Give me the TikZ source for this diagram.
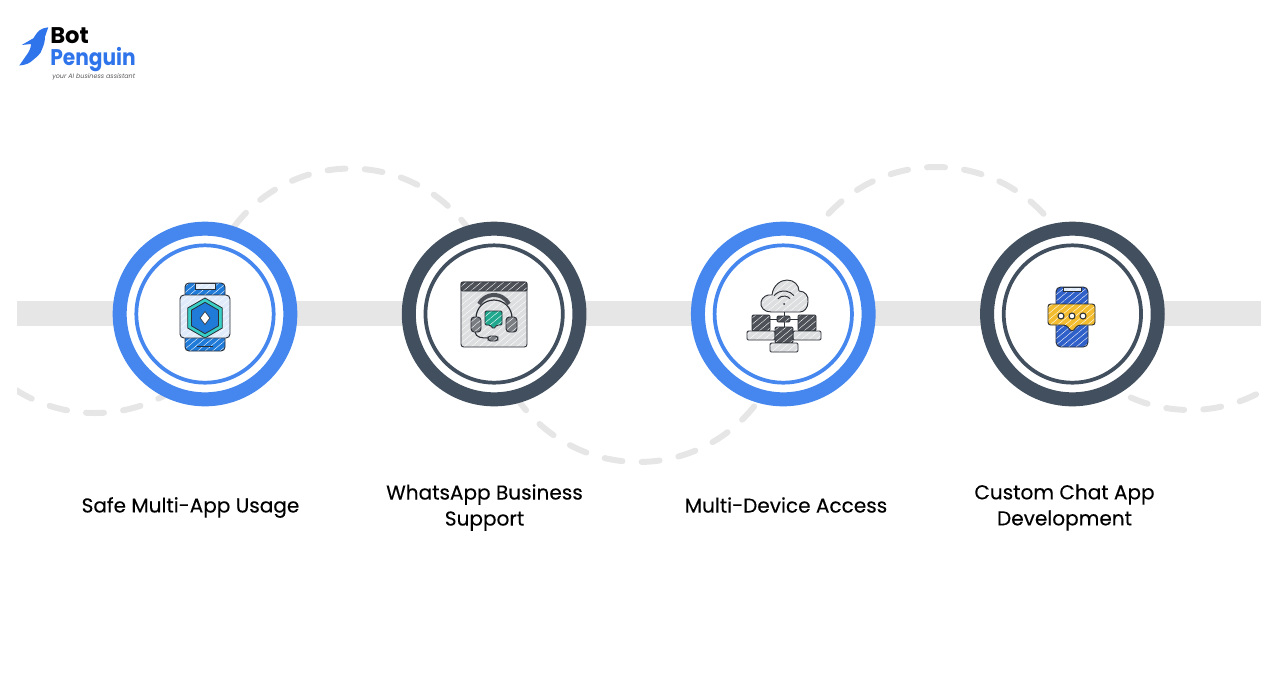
\documentclass[tikz,border=0pt]{standalone}
\usepackage{fontspec}
\setmainfont{Poppins}
\newfontfamily\labelfont[FakeBold=0.25]{Poppins}
\newfontfamily\logofont[FakeStretch=0.89]{Poppins}
\usepackage{xcolor}
\usetikzlibrary{positioning, shapes.geometric, patterns.meta}

\definecolor{ringblue}{HTML}{4587EE}
\definecolor{ringdark}{HTML}{414F5E}
\definecolor{trackgray}{HTML}{E6E6E6}
\definecolor{iconline}{HTML}{2B2F36}
\definecolor{iconblue}{HTML}{1F7AD8}
\definecolor{iconteal}{HTML}{38CFC6}
\definecolor{iconpale}{HTML}{DFEBFA}
\definecolor{iconsilver}{HTML}{DDDEE0}
\definecolor{icongray}{HTML}{4E5258}
\definecolor{icongreen}{HTML}{1FA88E}
\definecolor{iconcobalt}{HTML}{2F5FC8}
\definecolor{iconyellow}{HTML}{F2BC2E}
\definecolor{logoblue}{HTML}{2F74EA}

\tikzset{
    outerring/.style={draw=#1, circle, fill=white, line width=10.5pt, minimum size=128pt, inner sep=0pt},
    innerring/.style={draw=#1, circle, line width=2.8pt, minimum size=103pt, inner sep=0pt},
    dashline/.style={draw=trackgray, line width=4.5pt, line cap=round, dash pattern=on 13.5pt off 14.4pt},
    sketch/.style={draw=iconline, line width=.7pt, preaction={fill=#1},
        preaction={pattern={Lines[angle=40,distance=3.6pt,line width=.3pt]}, pattern color=white}},
    hexshape/.style={regular polygon, regular polygon sides=6, shape border rotate=30, draw=iconline, line width=.6pt, inner sep=0pt},
    steplabel/.style={font=\labelfont\fontsize{15.05pt}{19.5pt}\selectfont, text=black, align=center},
    logotext/.style={anchor=base west, inner sep=0pt, font=\bfseries\fontsize{17pt}{17pt}\selectfont}
}

\begin{document}
\begin{tikzpicture}[x=0.75pt, y=-0.75pt, node distance=216.85pt]
        \useasboundingbox (0,0) rectangle (1288,686);

        % Track
        \fill[trackgray] (17,301) rectangle (1261,326);

        % Dashed arcs
        \foreach \cx/\cy/\rad/\from/\to in {350.5/314/145.5/-143/-30, 638.5/314/148/146.4/35, 936/314/147/-137/-42.5, 1190/263/147/128.3/63.3} {
            \draw[dashline] ([shift=(\from:\rad)]\cx,\cy) arc (\from:\to:\rad);
        }
        \begin{scope}
            \clip (17,360) rectangle (300,430);
            \draw[dashline] ([shift=(137:147)]95,266) arc (137:60:147);
        \end{scope}

        % Rings
        \node[outerring=ringblue] (ring1) at (205,314) {};
        \node[outerring=ringdark, right of=ring1] (ring2) {};
        \node[outerring=ringblue, right of=ring2] (ring3) {};
        \node[outerring=ringdark, right of=ring3] (ring4) {};
        \node[innerring=ringblue] (inner1) at (ring1) {};
        \node[innerring=ringdark] (inner2) at (ring2) {};
        \node[innerring=ringblue] (inner3) at (ring3) {};
        \node[innerring=ringdark] (inner4) at (ring4) {};

        % Labels
        \node[steplabel] (label1) at (190.5,507.5) {Safe Multi-App Usage};
        \node[steplabel] (label2) at (484.5,507.5) {WhatsApp Business\\Support};
        \node[steplabel] (label3) at (786,505) {Multi-Device Access};
        \node[steplabel] (label4) at (1064.5,507.5) {Custom Chat App\\Development};

        % Icon 1
        \path[sketch=iconblue, rounded corners=3pt] (185,283) rectangle (225,351);
        \path[sketch=iconpale] (195,283) -- (215,283) -- (215,289) -- (195,289) -- cycle;
        \path[sketch=iconpale, rounded corners=3pt] (180,295) rectangle (230,338);
        \node[hexshape, fill=iconteal, minimum size=30pt] (hexouter) at (205,318) {};
        \node[hexshape, fill=iconblue, minimum size=23.5pt] (hexinner) at (205,318) {};
        \node[diamond, draw=iconline, line width=.5pt, fill=white, minimum width=7.5pt, minimum height=10pt, inner sep=0pt] (hexcore) at (205,318) {};
        \draw[iconline, line width=.5pt] (197,346) -- (213,346);

        % Icon 2
        \path[sketch=iconsilver, rounded corners=2pt] (461,282) rectangle (527,347);
        \path[sketch=icongray, rounded corners=1pt] (461,282) rectangle (527,291);
        \draw[iconline, line width=.9pt] (476,318) arc (180:360:18);
        \draw[icongray, line width=3pt] (479,304) arc (-152:-28:17);
        \path[sketch=icongreen, rounded corners=1pt] (485,311) -- (502,311) -- (502,325) -- (497,325) -- (493.5,329) -- (490,325) -- (485,325) -- cycle;
        \path[sketch=icongray!75, rounded corners=2.5pt] (471,317) rectangle (481,332);
        \path[sketch=icongray!75, rounded corners=2.5pt] (506,317) rectangle (517,332);
        \draw[iconline, line width=.8pt] (475,332) .. controls (476,338) and (482,338) .. (489,338);
        \path[sketch=icongray!75, rounded corners=2pt] (488,336) rectangle (498,341);

        % Icon 3
        \path[sketch=iconsilver] (771,312) .. controls (764,312) and (760,307) .. (761,302) .. controls (762,297) and (767,294) .. (772,295)
            .. controls (773,285) and (781,280) .. (787,280) .. controls (794,280) and (799,285) .. (799,291)
            .. controls (805,291) and (809,296) .. (808,302) .. controls (808,308) and (804,312) .. (800,312) -- cycle;
        \draw[iconline, line width=.7pt] ([shift=(-140:13)]784,304) arc (-140:-40:13);
        \draw[iconline, line width=.7pt] ([shift=(-140:8)]784,304) arc (-140:-40:8);
        \fill[iconline] (784,304) circle (1);
        \draw[iconline, line width=.7pt] (784,312) -- (784,327);
        \draw[iconline, line width=.7pt] (770,319) -- (798,319);
        \path[sketch=icongray, rounded corners=1pt] (777,316) rectangle (790,322);
        \foreach \lx/\ly in {752/315, 798/315, 775/327} {
            \path[sketch=icongray, rounded corners=1pt] (\lx,\ly) rectangle (\lx+18,\ly+16);
            \path[sketch=iconsilver, rounded corners=1pt] (\lx-5,\ly+16) rectangle (\lx+23,\ly+25);
        }

        % Icon 4
        \path[sketch=iconcobalt, rounded corners=3.5pt] (1056,287) rectangle (1088,347);
        \path[sketch=iconpale] (1063,287) -- (1081,287) -- (1081,291) -- (1063,291) -- cycle;
        \path[sketch=iconyellow, rounded corners=2pt] (1048,304) -- (1095,304) -- (1095,325) -- (1078,325) -- (1072,332) -- (1066,325) -- (1048,325) -- cycle;
        \foreach \dx in {1061,1072,1083} {
            \draw[iconline, fill=white, line width=.8pt] (\dx,316) circle (3);
        }

        % Logo
        \fill[logoblue] (48.3,27.3) .. controls (44,28) and (41,29) .. (40,30) .. controls (37,32) and (35,36) .. (33.3,38.3)
            -- (21.7,45) -- (31,44) .. controls (31,48) and (29,51) .. (28,53) -- (19.3,65.5)
            .. controls (26,65) and (30,63) .. (33,60) .. controls (38,56) and (41,53) .. (41.7,50)
            .. controls (44,45) and (45,41) .. (45,36.7) -- cycle;
        \node[logotext, text=black] (logobot) at (50,43.5) {Bot};
        \node[logotext, text=logoblue, font=\logofont\bfseries\fontsize{17pt}{17pt}\selectfont] (logopenguin) at (50,65) {Penguin};
        \node[anchor=west, inner sep=0pt, font=\itshape\fontsize{4.8pt}{5pt}\selectfont, text=black!65] (logotag) at (52,77) {your AI business assistant};
\end{tikzpicture}
\end{document}
